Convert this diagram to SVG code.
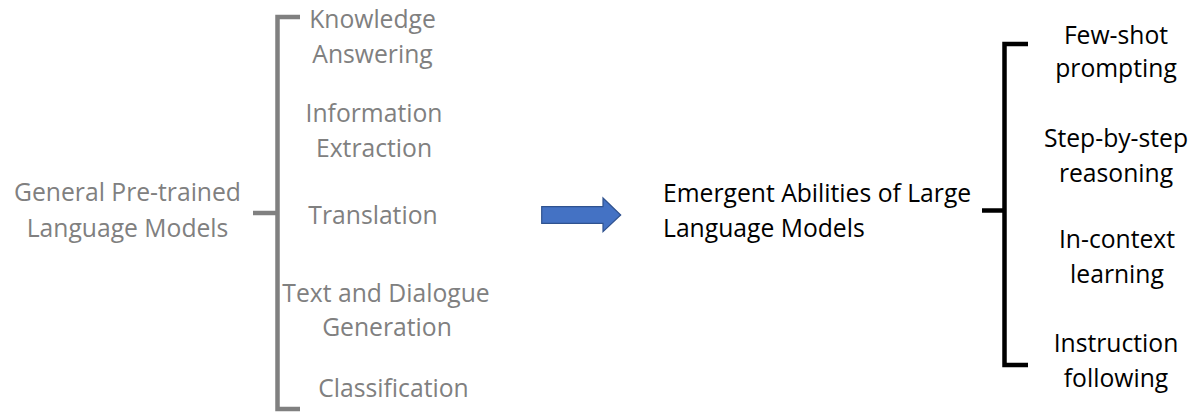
<svg xmlns="http://www.w3.org/2000/svg" width="1198" height="415" viewBox="0 0 1198 415">
<style>
text{font-family:"Open Sans","Noto Sans","Liberation Sans",sans-serif;font-size:24.7px}
.g{fill:#808080}
.k{fill:#000}
.m{text-anchor:middle}
.bg{fill:none;stroke:#808080;stroke-width:4.5}
.bk{fill:none;stroke:#000;stroke-width:4.5}
</style>
<rect width="1198" height="415" fill="#fff"/>
<g id="connectors">
<path class="bg" d="M300,17 H277.5 V409 H300"/>
<path class="bg" d="M253,213 H277.5"/>
<path class="bk" d="M1028,44 H1004.5 V365 H1028"/>
<path class="bk" d="M982,210.5 H1004.5"/>
<path d="M541.7,206.7 H603 V198 L620.7,215 L603,231.7 V223.3 H541.7 Z" fill="#4472C4" stroke="#2F528F" stroke-width="1.2"/>
</g>
<g id="general"><text class="g m" x="127.5" y="201">General Pre-trained</text><text class="g m" x="127.5" y="236.5">Language Models</text></g>
<g id="knowledge"><text class="g m" x="372.5" y="28">Knowledge</text><text class="g m" x="372.5" y="63">Answering</text></g>
<g id="information"><text class="g m" x="374" y="122">Information</text><text class="g m" x="374" y="157">Extraction</text></g>
<g id="translation"><text class="g m" x="373" y="224">Translation</text></g>
<g id="textdialogue"><text class="g m" x="386" y="302">Text and Dialogue</text><text class="g m" x="387" y="336">Generation</text></g>
<g id="classification"><text class="g m" x="393.5" y="397">Classification</text></g>
<g id="emergent"><text class="k" x="663" y="202">Emergent Abilities of Large</text><text class="k" x="663" y="236.5">Language Models</text></g>
<g id="fewshot"><text class="k m" x="1116" y="43.5">Few-shot</text><text class="k m" x="1116" y="77">prompting</text></g>
<g id="stepbystep"><text class="k m" x="1116" y="147">Step-by-step</text><text class="k m" x="1116" y="181.5">reasoning</text></g>
<g id="incontext"><text class="k m" x="1117" y="248">In-context</text><text class="k m" x="1117" y="283">learning</text></g>
<g id="instruction"><text class="k m" x="1116" y="352">Instruction</text><text class="k m" x="1116" y="387">following</text></g>
</svg>
